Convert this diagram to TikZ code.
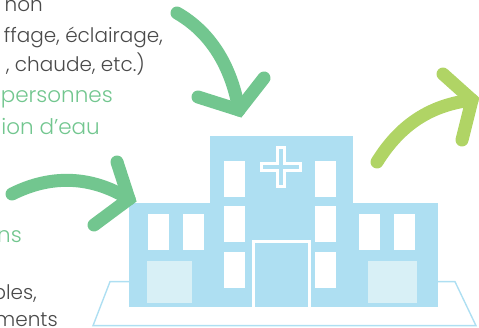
\documentclass[tikz,border=0pt]{standalone}
\usepackage{fontspec}
\setmainfont{Poppins Light}
\definecolor{buildblue}{HTML}{AEDFF2}
\definecolor{paleblue}{HTML}{D8F0F6}
\definecolor{arrowgreen}{HTML}{72C68F}
\definecolor{arrowlime}{HTML}{B0D465}
\definecolor{textgray}{HTML}{4A4A4A}
\tikzset{
  wall/.style={fill=buildblue},
  pane/.style={fill=white},
  yard/.style={fill=paleblue},
  curvearrow/.style={line width=13pt, line cap=round, line join=miter},
  bodytext/.style={anchor=base east, inner sep=0pt, text=textgray, font=\fontsize{20}{20}\selectfont},
  greentext/.style={bodytext, text=arrowgreen, font=\fontsize{21.5}{21.5}\selectfont}
}
\begin{document}
\begin{tikzpicture}[x=1pt, y=-1pt]
  \useasboundingbox (0,0) rectangle (479,328);

  % base
  \draw[buildblue, line width=1.4pt] (129,281.7) -- (110,281.7) -- (93,325.7) -- (476,325.7) -- (455,281.7) -- (438,281.7);

  % building
  \fill[wall] (210,136) rectangle (353,307);
  \fill[wall] (129,203) rectangle (438,307);

  % windows
  \foreach \x in {148,183,359,394}
    \fill[pane] (\x,214) rectangle ++(21,36);
  \foreach \x in {224,315}
    \foreach \y in {161,206,252}
      \fill[pane] (\x,\y) rectangle ++(21,36);

  \fill[yard] (147,261) rectangle (192,303);
  \fill[yard] (368,261) rectangle (417,303);

  % door
  \draw[white, line width=2.6pt] (253.3,307) -- (253.3,241.5) -- (309.7,241.5) -- (309.7,307);

  % cross
  \draw[white, line width=3pt] (277.6,147.5) -- (284.4,147.5) -- (284.4,163.6) -- (300.5,163.6) -- (300.5,170.4) -- (284.4,170.4)
    -- (284.4,186.5) -- (277.6,186.5) -- (277.6,170.4) -- (261.5,170.4) -- (261.5,163.6) -- (277.6,163.6) -- cycle;

  % arrows
  \coordinate (A1) at (177,13);
  \coordinate (T1) at (239,110);
  \draw[curvearrow, arrowgreen] (A1) .. controls (210,32) and (231,65) .. (T1);
  \draw[curvearrow, arrowgreen] (198,97) -- (T1) -- (264,78);

  \coordinate (A2) at (12,194);
  \coordinate (T2) at (129,199);
  \draw[curvearrow, arrowgreen] (A2) .. controls (50,175) and (90,175) .. (T2);
  \draw[curvearrow, arrowgreen] (94,225) -- (T2) -- (117,162);

  \coordinate (A3) at (377,162);
  \coordinate (T3) at (472,100);
  \draw[curvearrow, arrowlime] (A3) .. controls (400,125) and (430,105) .. (T3);
  \draw[curvearrow, arrowlime] (443,74) -- (T3) -- (462,140);

  % text
  \node[bodytext] (non) at (43,12) {non};
  \node[bodytext] (heat) at (163,43) {ffage, éclairage,};
  \node[bodytext] (water) at (145,72) {, chaude, etc.)};
  \node[greentext] (people) at (113,103) {personnes};
  \node[greentext] (eau) at (100,135) {ion d’eau};
  \node[greentext] (ns) at (22,243) {ns};
  \node[bodytext] (bles) at (37,300) {bles,};
  \node[bodytext] (ements) at (58,327) {ements};
\end{tikzpicture}
\end{document}
